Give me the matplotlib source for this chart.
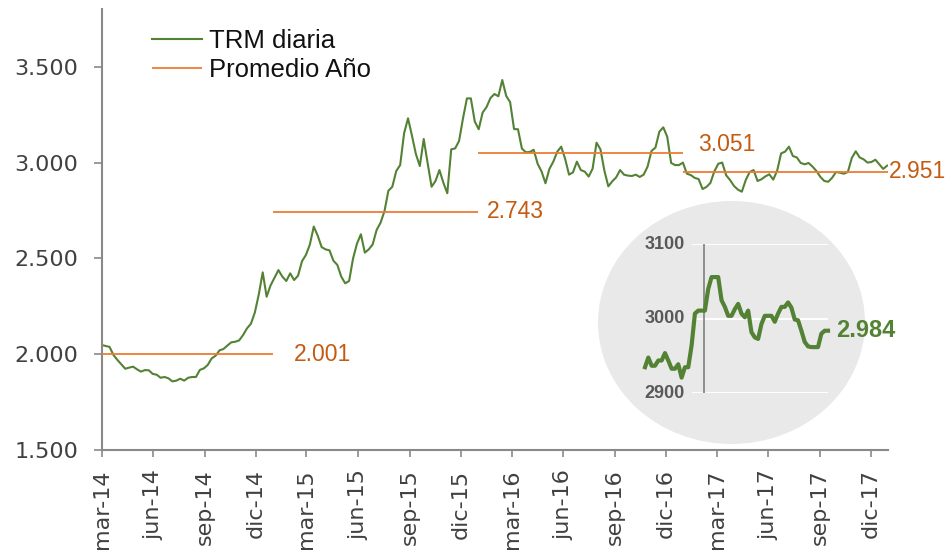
import matplotlib
matplotlib.use('Agg')
import matplotlib.pyplot as plt
from matplotlib.patches import Ellipse
import numpy as np
import pandas as pd

# TRM semanal (1 mar 2014 - 30 dic 2017)
fechas = pd.date_range('2014-03-01', periods=201, freq='7D')
trm = [
    2048, 2043, 2038, 1996, 1970, 1947, 1924, 1930, 1935, 1921, 1909, 1917, 1916,
    1897, 1893, 1877, 1881, 1874, 1858, 1862, 1872, 1862, 1877, 1881, 1881, 1918,
    1926, 1944, 1978, 1992, 2020, 2027, 2045, 2062, 2065, 2072, 2100, 2135, 2159,
    2218, 2312, 2427, 2300, 2359, 2399, 2439, 2405, 2382, 2422, 2387, 2410,
    2485, 2518, 2572, 2666, 2619, 2559, 2547, 2542, 2488, 2466, 2405, 2370, 2382,
    2499, 2577, 2626, 2530, 2547, 2573, 2648, 2686, 2746, 2853, 2874, 2956, 2987,
    3153, 3231, 3141, 3045, 2982, 3123, 2996, 2874, 2904, 2961, 2895, 2840, 3069,
    3074, 3113, 3231, 3335, 3335, 3214, 3174, 3261, 3290,
    3337, 3358, 3346, 3431, 3348, 3315, 3175, 3174, 3073, 3054, 3055, 3067, 2994,
    2954, 2892, 2967, 3005, 3057, 3083, 3020, 2937, 2949, 3005, 2961, 2953, 2927,
    2968, 3104, 3069, 2958, 2876, 2902, 2923, 2961, 2937, 2932, 2930, 2937, 2925,
    2937, 2979, 3061, 3078, 3161, 3184, 3135, 2998, 2987, 2987, 3000, 2942,
    2935, 2920, 2914, 2862, 2873, 2894, 2954, 2994, 3000, 2934, 2909, 2878, 2859,
    2848, 2909, 2951, 2961, 2904, 2913, 2928, 2939, 2911, 2958, 3048, 3057, 3083,
    3034, 3027, 2998, 2991, 2998, 2979, 2956, 2925, 2904, 2900, 2921, 2951, 2947,
    2942, 2951, 3024, 3059, 3027, 3017, 3000, 3003, 3015, 2991, 2967, 2984,
]

# promedio anual
inicio_anio = ['2014-03-01', '2015-01-01', '2016-01-01', '2017-01-01']
fin_anio = ['2014-12-31', '2015-12-31', '2016-12-31', '2017-12-31']
promedio = [2001, 2743, 3051, 2951]

# detalle ultimos meses (circulo)
detalle = [
    2935, 2948, 2937, 2937, 2944, 2944, 2954, 2944, 2933, 2933, 2939, 2921, 2935,
    2935, 2964, 3007, 3011, 3011, 3011, 3040, 3056, 3056, 3056, 3025, 3016, 3004,
    3004, 3013, 3020, 3007, 3002, 3011, 2982, 2975, 2973, 2993, 3004, 3004, 3004,
    2996, 3007, 3016, 3016, 3022, 3015, 2999, 2998, 2984, 2969, 2963, 2962, 2962,
    2962, 2980, 2984, 2984,
]
detalle_ticks = [2900, 3000, 3100]

meses = ['mar-14', 'jun-14', 'sep-14', 'dic-14', 'mar-15', 'jun-15', 'sep-15', 'dic-15',
         'mar-16', 'jun-16', 'sep-16', 'dic-16', 'mar-17', 'jun-17', 'sep-17', 'dic-17']
yticks = [1500, 2000, 2500, 3000, 3500]

VERDE = '#548235'
NARANJA = '#ED7D31'
NARANJA_TXT = '#C55A11'
GRIS = '#898989'

plt.rcParams['font.family'] = ['Liberation Sans', 'DejaVu Sans']


def miles(v):
    return f'{v:,}'.replace(',', '.')


fig = plt.figure(figsize=(9.48, 5.5), dpi=100)
ax = fig.add_axes([101.7 / 948, 100 / 550, 786 / 948, 440.7 / 550])

ax.plot(fechas, trm, color=VERDE, lw=1.5, label='TRM diaria', zorder=2)

offs = [(15, 0), (7, 0), (11, 6), (1, 0)]
for k, (a, b, v) in enumerate(zip(inicio_anio, fin_anio, promedio)):
    ax.hlines(v, pd.Timestamp(a), pd.Timestamp(b), color=NARANJA, lw=1.3, zorder=3,
              label='Promedio Año' if k == 0 else None)
    ax.annotate(miles(v), xy=(pd.Timestamp(b), v), xytext=offs[k], textcoords='offset points',
                ha='left', va='center', fontsize=16.5, color=NARANJA_TXT, annotation_clip=False)

ax.set_xlim(pd.Timestamp('2014-03-01'), pd.Timestamp('2017-12-31'))
ax.set_ylim(1500, 3800)
ax.set_xticks(pd.date_range('2014-03-01', '2017-12-01', freq='3MS'))
ax.set_xticklabels(meses, rotation=90, fontfamily='DejaVu Sans', fontsize=16, color='#404040')
ax.set_yticks(yticks)
ax.set_yticklabels([miles(v) for v in yticks], fontfamily='DejaVu Sans', fontsize=16, color='#404040')
ax.tick_params(axis='x', length=5, width=1.2, pad=9, color=GRIS)
ax.tick_params(axis='y', length=6, width=1.2, pad=11, color=GRIS)
for s in ['top', 'right']:
    ax.spines[s].set_visible(False)
for s in ['left', 'bottom']:
    ax.spines[s].set_color(GRIS)
    ax.spines[s].set_linewidth(1.5)

leg = ax.legend(loc='upper left', bbox_to_anchor=(152 / 948, 1 - 29 / 550), bbox_transform=fig.transFigure,
                frameon=False, fontsize=18.5, borderpad=0, borderaxespad=0, handlelength=1.95,
                handletextpad=0.25, labelspacing=0.2)
for t in leg.get_texts():
    t.set_color('#111111')

# circulo con el detalle
fig.add_artist(Ellipse((731.5 / 948, 1 - 322.5 / 550), 267 / 948, 243 / 550, transform=fig.transFigure,
                       facecolor='#E9E9E9', edgecolor='none', zorder=1))

ins = fig.add_axes([645 / 948, 156.7 / 550, 183 / 948, 149 / 550], zorder=2)
ins.patch.set_alpha(0)
ins.axis('off')
x = np.arange(len(detalle))
ins.set_xlim(0, len(detalle) - 1)
ins.set_ylim(2900, 3100)
for g in detalle_ticks:
    ins.axhline(g, xmin=0.262, xmax=1, color='white', lw=1.4, zorder=1)
    ins.text(12, g, str(g), ha='right', va='center', fontsize=13, fontweight='bold', color='#595959')
ins.vlines(17.8, 2900, 3100, color='#808080', lw=1.2, zorder=2)
ins.plot(x, detalle, color=VERDE, lw=3, clip_on=False, zorder=3, solid_joinstyle='round')
ins.annotate(miles(detalle[-1]), xy=(x[-1], detalle[-1]), xytext=(6, 0), textcoords='offset points',
             ha='left', va='center', fontsize=17, fontweight='bold', color=VERDE, annotation_clip=False)

fig.savefig('out.png', dpi=100)
